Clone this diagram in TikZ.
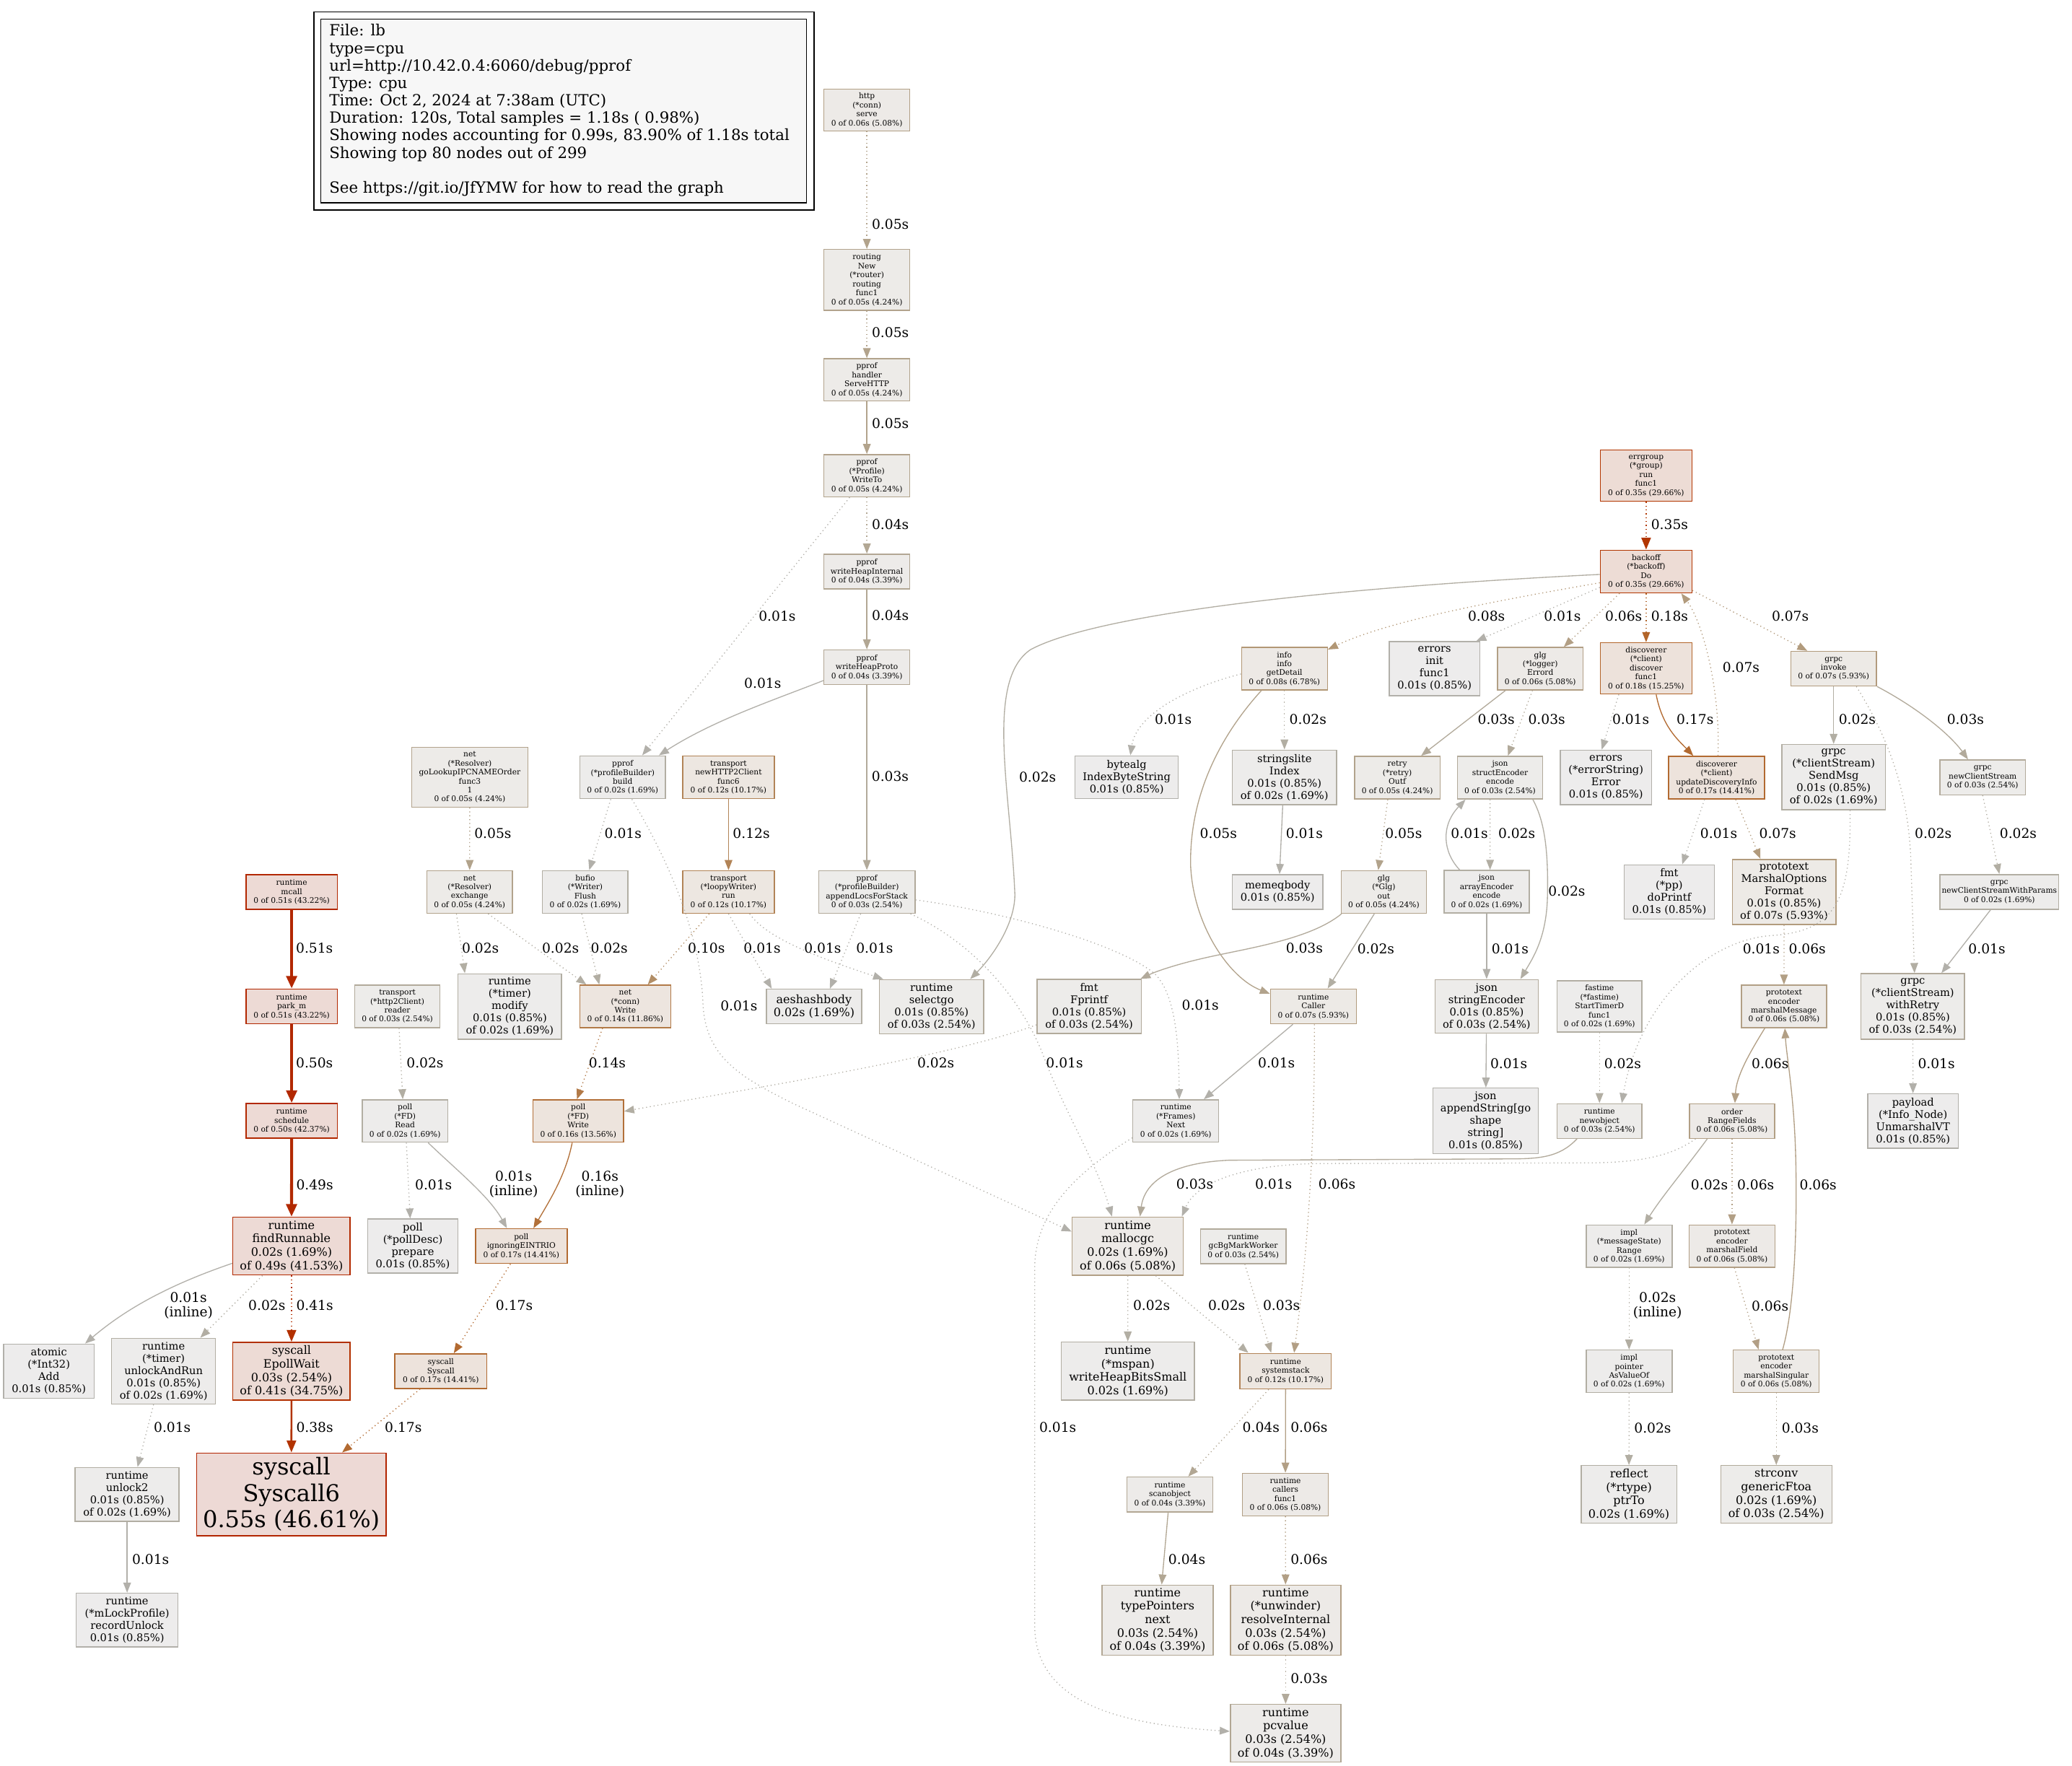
\documentclass[tikz,border=0pt]{standalone}
\usepackage{fontspec}
\setmainfont{DejaVu Serif}
\usetikzlibrary{arrows.meta}
\definecolor{c01}{HTML}{B2B0AA}\definecolor{c02}{HTML}{B2AEA3}\definecolor{c03}{HTML}{B2AA9B}
\definecolor{c04}{HTML}{B2A794}\definecolor{c05}{HTML}{B2A38C}\definecolor{c06}{HTML}{B29F85}
\definecolor{c07}{HTML}{B29B7D}\definecolor{c08}{HTML}{B29775}\definecolor{c10}{HTML}{B28E66}
\definecolor{c12}{HTML}{B28457}\definecolor{c14}{HTML}{B27A48}\definecolor{c16}{HTML}{B27039}
\definecolor{c17}{HTML}{B26A31}\definecolor{c18}{HTML}{B2652A}\definecolor{c35}{HTML}{B23600}
\definecolor{c38}{HTML}{B23300}\definecolor{c41}{HTML}{B23000}\definecolor{c49}{HTML}{B22900}
\definecolor{c50}{HTML}{B22800}\definecolor{c51}{HTML}{B22700}\definecolor{c55}{HTML}{B22400}
\definecolor{f01}{HTML}{EDECEC}\definecolor{f02}{HTML}{EDECEB}\definecolor{f03}{HTML}{EDECEA}
\definecolor{f04}{HTML}{EDEBE9}\definecolor{f05}{HTML}{EDEBE8}\definecolor{f06}{HTML}{EDEAE7}
\definecolor{f07}{HTML}{EDEAE6}\definecolor{f08}{HTML}{EDE9E5}\definecolor{f12}{HTML}{EDE7E1}
\definecolor{f14}{HTML}{EDE5DF}\definecolor{f16}{HTML}{EDE4DD}\definecolor{f17}{HTML}{EDE3DC}
\definecolor{f18}{HTML}{EDE2DB}\definecolor{f35}{HTML}{EDDCD5}\definecolor{f41}{HTML}{EDDBD5}
\definecolor{f51}{HTML}{EDDAD5}\definecolor{f55}{HTML}{EDD9D5}\definecolor{legendfill}{HTML}{F7F7F7}
\tikzset{
 gbox/.style={rectangle, inner sep=0pt, align=center, line width=0.8pt},
 ft/.style={font=\fontsize{5.82}{6.8}\selectfont},
 fa/.style={font=\fontsize{8}{9.3}\selectfont},
 fb/.style={font=\fontsize{8.74}{10.2}\selectfont},
 fc/.style={font=\fontsize{17.5}{20}\selectfont},
 elbl/.style={font=\fontsize{10.2}{11.8}\selectfont, inner sep=0pt, anchor=west},
 elblc/.style={font=\fontsize{10.2}{11}\selectfont, inner sep=0pt, anchor=center, align=center},
 ed/.style={draw=#1, -{Triangle[length=7.6pt,width=5.8pt]}, line width=0.73pt},
 ed2/.style={draw=#1, -{Triangle[length=9pt,width=7pt]}, line width=1.46pt},
 ed3/.style={draw=#1, -{Triangle[length=9.5pt,width=8pt]}, line width=2.2pt},
 dt/.style={dash pattern=on 0.7pt off 2.2pt},
}
\newcommand{\gvnode}[9]{\node[gbox,#6,draw=#7,fill=#8,minimum width=#4pt,minimum height=#5pt] (#1) at (#2,#3) {#9};}
\newcommand{\elab}[4]{\node[elbl] (#1) at (#2,#3) {#4};}
\newcommand{\elabc}[4]{\node[elblc] (#1) at (#2,#3) {#4};}
\begin{document}
\begin{tikzpicture}[x=1pt,y=-1pt]
\useasboundingbox (0,0) rectangle (1568,1336);
% legend
\node[draw=black, line width=0.9pt, anchor=north west, minimum width=378.5pt, minimum height=150pt, inner sep=0pt] (legendframe) at (237,8.5) {};
\node[draw=black, fill=legendfill, line width=0.8pt, anchor=north west, minimum width=367.5pt, minimum height=139pt, inner sep=0pt] (legendbox) at (242.5,14) {};
\node[anchor=north west, align=left, inner sep=0pt, font=\fontsize{11.65}{13.2}\selectfont] (legendtext) at (249,18.2) {File: lb\\type=cpu\\url=http://10.42.0.4:6060/debug/pprof\\Type: cpu\\Time: Oct 2, 2024 at 7:38am (UTC)\\Duration: 120s, Total samples = 1.18s ( 0.98\%)\\Showing nodes accounting for 0.99s, 83.90\% of 1.18s total\\Showing top 80 nodes out of 299\\[13.2pt]See https://git.io/JfYMW for how to read the graph};
% nodes
\gvnode{http}{656}{83.2}{65}{31.6}{ft}{c06}{f06}{http\\(*conn)\\serve\\0 of 0.06s (5.08\%)}
\gvnode{routing}{656}{211.8}{65}{46}{ft}{c05}{f05}{routing\\New\\(*router)\\routing\\func1\\0 of 0.05s (4.24\%)}
\gvnode{servehttp}{656}{287.4}{65}{32}{ft}{c05}{f05}{pprof\\handler\\ServeHTTP\\0 of 0.05s (4.24\%)}
\gvnode{writeto}{656}{360}{65}{32}{ft}{c05}{f05}{pprof\\(*Profile)\\WriteTo\\0 of 0.05s (4.24\%)}
\gvnode{whi}{656}{432.5}{65}{26.3}{ft}{c04}{f04}{pprof\\writeHeapInternal\\0 of 0.04s (3.39\%)}
\gvnode{whp}{656}{505}{65}{26.3}{ft}{c04}{f04}{pprof\\writeHeapProto\\0 of 0.04s (3.39\%)}
\gvnode{build}{471.2}{588.2}{64.8}{32.4}{ft}{c02}{f02}{pprof\\(*profileBuilder)\\build\\0 of 0.02s (1.69\%)}
\gvnode{golookup}{355.5}{588.2}{88}{45.2}{ft}{c05}{f05}{net\\(*Resolver)\\goLookupIPCNAMEOrder\\func3\\1\\0 of 0.05s (4.24\%)}
\gvnode{func6}{551.3}{588.2}{69.3}{32.4}{ft}{c12}{f12}{transport\\newHTTP2Client\\func6\\0 of 0.12s (10.17\%)}
\gvnode{appendlocs}{656}{675}{73}{32.3}{ft}{c03}{f03}{pprof\\(*profileBuilder)\\appendLocsForStack\\0 of 0.03s (2.54\%)}
\gvnode{exchange}{355.4}{675}{64.7}{32.3}{ft}{c05}{f05}{net\\(*Resolver)\\exchange\\0 of 0.05s (4.24\%)}
\gvnode{bufio}{442.9}{675}{64.7}{32.3}{ft}{c02}{f02}{bufio\\(*Writer)\\Flush\\0 of 0.02s (1.69\%)}
\gvnode{loopy}{551.3}{675}{69.3}{32.3}{ft}{c12}{f12}{transport\\(*loopyWriter)\\run\\0 of 0.12s (10.17\%)}
\gvnode{mcall}{220.7}{675}{69}{26.3}{ft}{c51}{f51}{runtime\\mcall\\0 of 0.51s (43.22\%)}
\gvnode{parkm}{220.7}{761.6}{69}{26.3}{ft}{c51}{f51}{runtime\\park\_m\\0 of 0.51s (43.22\%)}
\gvnode{schedule}{220.7}{848.2}{69}{26.3}{ft}{c50}{f51}{runtime\\schedule\\0 of 0.50s (42.37\%)}
\gvnode{findrunnable}{220.6}{943}{88.8}{43.8}{fb}{c49}{f51}{runtime\\findRunnable\\0.02s (1.69\%)\\of 0.49s (41.53\%)}
\gvnode{reader}{300.7}{761.6}{64.4}{32.2}{ft}{c03}{f03}{transport\\(*http2Client)\\reader\\0 of 0.03s (2.54\%)}
\gvnode{timermodify}{385.8}{761.7}{78.4}{49.6}{fa}{c02}{f02}{runtime\\(*timer)\\modify\\0.01s (0.85\%)\\of 0.02s (1.69\%)}
\gvnode{netwrite}{473.2}{761.6}{69}{32.2}{ft}{c14}{f14}{net\\(*conn)\\Write\\0 of 0.14s (11.86\%)}
\gvnode{aeshash}{616}{761.6}{72}{26}{fb}{c02}{f02}{aeshashbody\\0.02s (1.69\%)}
\gvnode{selectgo}{704.9}{761.8}{79}{41}{fa}{c03}{f03}{runtime\\selectgo\\0.01s (0.85\%)\\of 0.03s (2.54\%)}
\gvnode{pollread}{306.5}{848.3}{64.7}{32.1}{ft}{c02}{f02}{poll\\(*FD)\\Read\\0 of 0.02s (1.69\%)}
\gvnode{pollwrite}{437.6}{848.3}{68.6}{32.1}{ft}{c16}{f16}{poll\\(*FD)\\Write\\0 of 0.16s (13.56\%)}
\gvnode{polldesc}{312.4}{943}{68.4}{41}{fa}{c01}{f01}{poll\\(*pollDesc)\\prepare\\0.01s (0.85\%)}
\gvnode{ignoring}{394.5}{943}{69.4}{26.3}{ft}{c17}{f17}{poll\\ignoringEINTRIO\\0 of 0.17s (14.41\%)}
\gvnode{atomicadd}{37}{1037.6}{68.6}{41}{fa}{c01}{f01}{atomic\\(*Int32)\\Add\\0.01s (0.85\%)}
\gvnode{unlockandrun}{123.8}{1037.6}{78.6}{49.8}{fa}{c02}{f02}{runtime\\(*timer)\\unlockAndRun\\0.01s (0.85\%)\\of 0.02s (1.69\%)}
\gvnode{epollwait}{220.6}{1037.7}{88.8}{43.7}{fb}{c41}{f41}{syscall\\EpollWait\\0.03s (2.54\%)\\of 0.41s (34.75\%)}
\gvnode{syscall}{333.6}{1037.6}{69.5}{26.3}{ft}{c17}{f17}{syscall\\Syscall\\0 of 0.17s (14.41\%)}
\gvnode{unlocktwo}{96.2}{1130.9}{78.6}{40.7}{fa}{c02}{f02}{runtime\\unlock2\\0.01s (0.85\%)\\of 0.02s (1.69\%)}
\gvnode{syscallsix}{220.5}{1130.9}{143.2}{62.7}{fc}{c55}{f55}{syscall\\Syscall6\\0.55s (46.61\%)}
\gvnode{recordunlock}{96.2}{1226}{77}{40.7}{fa}{c01}{f01}{runtime\\(*mLockProfile)\\recordUnlock\\0.01s (0.85\%)}
\gvnode{fprintf}{824.2}{761.6}{78.8}{40.8}{fa}{c03}{f03}{fmt\\Fprintf\\0.01s (0.85\%)\\of 0.03s (2.54\%)}
\gvnode{caller}{993.9}{761.6}{65}{26.3}{ft}{c07}{f07}{runtime\\Caller\\0 of 0.07s (5.93\%)}
\gvnode{frames}{889.8}{848.3}{65}{32.1}{ft}{c02}{f02}{runtime\\(*Frames)\\Next\\0 of 0.02s (1.69\%)}
\gvnode{mallocgc}{853.4}{943}{84}{44}{fb}{c06}{f06}{runtime\\mallocgc\\0.02s (1.69\%)\\of 0.06s (5.08\%)}
\gvnode{gcbg}{940.8}{943.1}{64.8}{26.2}{ft}{c03}{f03}{runtime\\gcBgMarkWorker\\0 of 0.03s (2.54\%)}
\gvnode{whbs}{853.5}{1037.6}{100.5}{44}{fb}{c02}{f02}{runtime\\(*mspan)\\writeHeapBitsSmall\\0.02s (1.69\%)}
\gvnode{systemstack}{972.9}{1037.6}{69.2}{26.9}{ft}{c12}{f12}{runtime\\systemstack\\0 of 0.12s (10.17\%)}
\gvnode{scanobject}{885.3}{1130.9}{65.2}{26.3}{ft}{c04}{f04}{runtime\\scanobject\\0 of 0.04s (3.39\%)}
\gvnode{callers}{972.7}{1131}{65.2}{32.3}{ft}{c06}{f06}{runtime\\callers\\func1\\0 of 0.06s (5.08\%)}
\gvnode{typepointers}{876}{1226}{84}{53}{fb}{c04}{f04}{runtime\\typePointers\\next\\0.03s (2.54\%)\\of 0.04s (3.39\%)}
\gvnode{resolve}{972.9}{1226}{83.7}{53}{fb}{c06}{f06}{runtime\\(*unwinder)\\resolveInternal\\0.03s (2.54\%)\\of 0.06s (5.08\%)}
\gvnode{pcvalue}{972.9}{1311.6}{83.7}{43.6}{fb}{c04}{f04}{runtime\\pcvalue\\0.03s (2.54\%)\\of 0.04s (3.39\%)}
\gvnode{getdetail}{972}{506}{65}{32}{ft}{c08}{f08}{info\\info\\getDetail\\0 of 0.08s (6.78\%)}
\gvnode{errinit}{1085.6}{506}{68.3}{41}{fa}{c01}{f01}{errors\\init\\func1\\0.01s (0.85\%)}
\gvnode{errord}{1165.6}{506}{64.6}{32}{ft}{c06}{f06}{glg\\(*logger)\\Errord\\0 of 0.06s (5.08\%)}
\gvnode{errgroup}{1245.7}{360}{69.3}{38.8}{ft}{c35}{f35}{errgroup\\(*group)\\run\\func1\\0 of 0.35s (29.66\%)}
\gvnode{backoff}{1245.7}{432.5}{69.3}{32.3}{ft}{c35}{f35}{backoff\\(*backoff)\\Do\\0 of 0.35s (29.66\%)}
\gvnode{discover}{1245.7}{505.8}{69.3}{38.8}{ft}{c18}{f18}{discoverer\\(*client)\\discover\\func1\\0 of 0.18s (15.25\%)}
\gvnode{invoke}{1387.6}{506}{64.9}{26.2}{ft}{c07}{f07}{grpc\\invoke\\0 of 0.07s (5.93\%)}
\gvnode{bytealg}{852.6}{588.2}{78}{32.4}{fa}{c01}{f01}{bytealg\\IndexByteString\\0.01s (0.85\%)}
\gvnode{stringslite}{972}{588.3}{79}{41.4}{fa}{c02}{f02}{stringslite\\Index\\0.01s (0.85\%)\\of 0.02s (1.69\%)}
\gvnode{retry}{1057.4}{588.5}{64.6}{32.3}{ft}{c05}{f05}{retry\\(*retry)\\Outf\\0 of 0.05s (4.24\%)}
\gvnode{structenc}{1135.2}{588.5}{64.5}{32.3}{ft}{c03}{f03}{json\\structEncoder\\encode\\0 of 0.03s (2.54\%)}
\gvnode{errstring}{1215.3}{588.3}{69.3}{41.2}{fa}{c01}{f01}{errors\\(*errorString)\\Error\\0.01s (0.85\%)}
\gvnode{update}{1299}{588.5}{72.4}{32.3}{ft}{c17}{f17}{discoverer\\(*client)\\updateDiscoveryInfo\\0 of 0.17s (14.41\%)}
\gvnode{sendmsg}{1387.6}{588.1}{78.5}{49.5}{fa}{c02}{f02}{grpc\\(*clientStream)\\SendMsg\\0.01s (0.85\%)\\of 0.02s (1.69\%)}
\gvnode{newcs}{1500.4}{588.3}{64.6}{26.4}{ft}{c03}{f03}{grpc\\newClientStream\\0 of 0.03s (2.54\%)}
\gvnode{memeqbody}{966.8}{675}{68.8}{26.4}{fa}{c01}{f01}{memeqbody\\0.01s (0.85\%)}
\gvnode{glgout}{1047.2}{675}{64.6}{32.3}{ft}{c05}{f05}{glg\\(*Glg)\\out\\0 of 0.05s (4.24\%)}
\gvnode{arrayenc}{1125}{674.8}{64.5}{32.3}{ft}{c02}{f02}{json\\arrayEncoder\\encode\\0 of 0.02s (1.69\%)}
\gvnode{doprintf}{1263.2}{675}{68.3}{41}{fa}{c01}{f01}{fmt\\(*pp)\\doPrintf\\0.01s (0.85\%)}
\gvnode{format}{1350.1}{675}{78.4}{49.3}{fa}{c07}{f07}{prototext\\MarshalOptions\\Format\\0.01s (0.85\%)\\of 0.07s (5.93\%)}
\gvnode{withparams}{1513}{675}{90}{26.4}{ft}{c02}{f02}{grpc\\newClientStreamWithParams\\0 of 0.02s (1.69\%)}
\gvnode{stringenc}{1125}{761.6}{78}{40.6}{fa}{c03}{f03}{json\\stringEncoder\\0.01s (0.85\%)\\of 0.03s (2.54\%)}
\gvnode{fastime}{1210.4}{761.6}{64.2}{38.8}{ft}{c02}{f02}{fastime\\(*fastime)\\StartTimerD\\func1\\0 of 0.02s (1.69\%)}
\gvnode{marshalmsg}{1350}{761.6}{64.5}{32.2}{ft}{c06}{f06}{prototext\\encoder\\marshalMessage\\0 of 0.06s (5.08\%)}
\gvnode{withretry}{1447.5}{761.6}{78.4}{49.7}{fa}{c03}{f03}{grpc\\(*clientStream)\\withRetry\\0.01s (0.85\%)\\of 0.03s (2.54\%)}
\gvnode{appendstr}{1124.2}{848.2}{79.8}{49.5}{fa}{c01}{f01}{json\\appendString[go\\shape\\string]\\0.01s (0.85\%)}
\gvnode{newobject}{1210.4}{848.3}{64.2}{26.2}{ft}{c03}{f03}{runtime\\newobject\\0 of 0.03s (2.54\%)}
\gvnode{rangefields}{1310.7}{848.3}{64.6}{26.2}{ft}{c06}{f06}{order\\RangeFields\\0 of 0.06s (5.08\%)}
\gvnode{payload}{1447.7}{848.3}{68.7}{41}{fa}{c01}{f01}{payload\\(*Info\_Node)\\UnmarshalVT\\0.01s (0.85\%)}
\gvnode{implrange}{1232.8}{943}{65}{32}{ft}{c02}{f02}{impl\\(*messageState)\\Range\\0 of 0.02s (1.69\%)}
\gvnode{marshalfield}{1310.7}{943}{65}{32}{ft}{c06}{f06}{prototext\\encoder\\marshalField\\0 of 0.06s (5.08\%)}
\gvnode{asvalueof}{1232.8}{1037.7}{65}{32}{ft}{c02}{f02}{impl\\pointer\\AsValueOf\\0 of 0.02s (1.69\%)}
\gvnode{marshalsing}{1344.2}{1037.7}{65}{32}{ft}{c06}{f06}{prototext\\encoder\\marshalSingular\\0 of 0.06s (5.08\%)}
\gvnode{ptrto}{1232.7}{1130.9}{72.4}{43.7}{fb}{c02}{f02}{reflect\\(*rtype)\\ptrTo\\0.02s (1.69\%)}
\gvnode{genericftoa}{1344.2}{1130.9}{84.1}{43.7}{fb}{c03}{f03}{strconv\\genericFtoa\\0.02s (1.69\%)\\of 0.03s (2.54\%)}
% edges
\draw[ed=c05,dt] (http) -- (routing);
\draw[ed=c05,dt] (routing) -- (servehttp);
\draw[ed=c05] (servehttp) -- (writeto);
\draw[ed=c04,dt] (writeto) -- (whi);
\draw[ed=c04] (whi) -- (whp);
\draw[ed=c01,dt] ([xshift=-13pt]writeto.south) -- ([xshift=14.8pt]build.north);
\draw[ed=c01] ([yshift=-10pt]whp.west) .. controls (585,530) and (540,545) .. ([xshift=27.4pt]build.north);
\draw[ed=c03] (whp) -- (appendlocs);
\draw[ed=c05,dt] (golookup) -- (exchange);
\draw[ed=c01,dt] ([xshift=-9pt]build.south) -- ([xshift=3pt]bufio.north);
\draw[ed=c01,dt] ([xshift=7pt]build.south) .. controls (505,650) and (530,705) .. (532,760) .. controls (534,800) and (560,815) .. (600,835) -- ([yshift=11pt]mallocgc.west);
\draw[ed=c12] (func6) -- (loopy);
\draw[ed=c02,dt] ([xshift=-10pt]exchange.south) -- ([xshift=-34pt]timermodify.north);
\draw[ed=c02,dt] ([xshift=14pt]exchange.south) -- ([xshift=-29.5pt]netwrite.north);
\draw[ed=c02,dt] ([xshift=-2.7pt]bufio.south) -- ([xshift=-19.7pt]netwrite.north);
\draw[ed=c10,dt] ([xshift=-14.6pt]loopy.south) -- ([xshift=17pt]netwrite.north);
\draw[ed=c01,dt] (loopy.south) -- ([xshift=-32pt]aeshash.north);
\draw[ed=c01,dt] ([xshift=16pt]loopy.south) .. controls (580,710) and (620,725) .. ([xshift=-36.5pt]selectgo.north);
\draw[ed=c01,dt] ([xshift=-4.7pt]appendlocs.south) -- ([xshift=12pt]aeshash.north);
\draw[ed=c01,dt] ([xshift=33pt]appendlocs.south) .. controls (740,715) and (775,760) .. (790,800) .. controls (805,840) and (830,880) .. ([xshift=-11.9pt]mallocgc.north);
\draw[ed=c01,dt] ([yshift=-6pt]appendlocs.east) .. controls (760,690) and (850,715) .. (875,738) .. controls (890,755) and (892,790) .. ([xshift=2.6pt]frames.north);
\draw[ed=c02,dt] ([yshift=-13.9pt]fprintf.west) .. controls (720,800) and (560,825) .. ([yshift=7.3pt]pollwrite.east);
\draw[ed=c02] ([yshift=-2.2pt]backoff.west) .. controls (1000,445) and (830,465) .. (780,491.5) .. controls (745,515) and (765,600) .. (768,677) .. controls (768,700) and (750,725) .. ([xshift=29.3pt]selectgo.north);
\draw[ed3=c51] (mcall) -- (parkm);
\draw[ed3=c50] (parkm) -- (schedule);
\draw[ed3=c49] (schedule) -- (findrunnable);
\draw[ed=c01] ([yshift=-13pt]findrunnable.west) .. controls (120,975) and (90,995) .. ([xshift=27.4pt]atomicadd.north);
\draw[ed=c02,dt] ([xshift=-22pt]findrunnable.south) -- ([xshift=27.8pt]unlockandrun.north);
\draw[ed2=c41,dt] (findrunnable) -- (epollwait);
\draw[ed2=c38] (epollwait) -- (syscallsix);
\draw[ed=c17,dt] ([xshift=-15.7pt]syscall.south) -- ([xshift=38.4pt]syscallsix.north);
\draw[ed=c17,dt] ([xshift=-8.2pt]ignoring.south) -- ([xshift=9.8pt]syscall.north);
\draw[ed=c01,dt] ([xshift=-7.6pt]unlockandrun.south) -- ([xshift=7.9pt]unlocktwo.north);
\draw[ed=c01] (unlocktwo) -- (recordunlock);
\draw[ed=c02,dt] ([xshift=1.3pt]reader.south) -- ([xshift=-1.7pt]pollread.north);
\draw[ed=c01,dt] ([xshift=1pt]pollread.south) -- ([xshift=-2pt]polldesc.north);
\draw[ed=c01] ([xshift=17.5pt]pollread.south) .. controls (345,885) and (370,905) .. ([xshift=-10.9pt]ignoring.north);
\draw[ed=c14,dt] ([xshift=-17.2pt]netwrite.south) -- ([xshift=-1pt]pollwrite.north);
\draw[ed=c16] ([xshift=-4.6pt]pollwrite.south) .. controls (428,890) and (415,910) .. ([xshift=9.2pt]ignoring.north);
\draw[ed=c05] ([xshift=-17.3pt]getdetail.south) .. controls (925,555) and (900,600) .. (901,655) .. controls (903,700) and (930,740) .. ([yshift=9.6pt]caller.west);
\draw[ed=c02] ([xshift=-7.2pt]glgout.south) -- ([xshift=10.8pt]caller.north);
\draw[ed=c03] ([xshift=-32pt]glgout.south) .. controls (990,712) and (940,718) .. (907,726) .. controls (890,730) and (875,735) .. ([xshift=-1pt]fprintf.north east);
\draw[ed=c01] ([xshift=-15.5pt]caller.south) -- ([xshift=21.2pt]frames.north);
\draw[ed=c06,dt] ([xshift=0.8pt]caller.south) .. controls (995,900) and (985,980) .. ([xshift=6.4pt]systemstack.north);
\draw[ed=c01,dt] ([yshift=-12.7pt]frames.west) .. controls (810,890) and (783,920) .. (783,960) -- (783,1230) .. controls (783,1290) and (850,1305) .. ([yshift=1.4pt]pcvalue.west);
\draw[ed=c02,dt] (mallocgc) -- (whbs);
\draw[ed=c02,dt] ([xshift=21.2pt]mallocgc.south) -- ([xshift=-28.2pt]systemstack.north);
\draw[ed=c03,dt] ([xshift=1.2pt]gcbg.south) -- ([xshift=-10.9pt]systemstack.north);
\draw[ed=c03] ([xshift=-17pt]newobject.south) .. controls (1180,876) and (1165,877) .. (1140,877) -- (930,878) .. controls (885,880) and (866,895) .. ([xshift=9.3pt]mallocgc.north);
\draw[ed=c01,dt] ([xshift=-27.6pt]rangefields.south) .. controls (1265,875) and (1240,880) .. (1200,880) -- (1000,880.5) .. controls (940,881) and (905,895) .. ([xshift=41pt]mallocgc.north);
\draw[ed=c04,dt] ([xshift=-12.8pt]systemstack.south) -- ([xshift=13.9pt]scanobject.north);
\draw[ed=c06] (systemstack) -- (callers);
\draw[ed=c04] ([xshift=-1.3pt]scanobject.south) -- ([xshift=3.1pt]typepointers.north);
\draw[ed=c06,dt] (callers) -- (resolve);
\draw[ed=c03,dt] (resolve) -- (pcvalue);
\draw[ed2=c35,dt] (errgroup) -- (backoff);
\draw[ed=c08,dt] ([yshift=-8.5pt]backoff.west) .. controls (1130,455) and (1050,470) .. ([yshift=14.5pt]getdetail.east);
\draw[ed=c01,dt] ([yshift=-12pt]backoff.west) -- ([xshift=-3pt]errinit.north east);
\draw[ed=c06,dt] ([xshift=-20.1pt]backoff.south) -- ([xshift=17.8pt]errord.north);
\draw[ed=c18,dt] (backoff) -- (discover);
\draw[ed=c07,dt] ([yshift=-14.3pt]backoff.east) -- ([xshift=-19.9pt]invoke.north);
\draw[ed=c07,dt] ([xshift=1.1pt]update.north) .. controls (1302,520) and (1288,470) .. ([xshift=26.6pt]backoff.south);
\draw[ed=c01,dt] ([xshift=-20.7pt]discover.south) -- ([xshift=-3.2pt]errstring.north);
\draw[ed=c17] ([xshift=7.6pt]discover.south) .. controls (1258,550) and (1270,560) .. ([xshift=-17.6pt]update.north);
\draw[ed=c02] (invoke) -- (sendmsg);
\draw[ed=c03] (invoke.south east) .. controls (1450,535) and (1475,555) .. ([xshift=-11.1pt]newcs.north);
\draw[ed=c02,dt] ([xshift=17.2pt]invoke.south) .. controls (1430,560) and (1444,600) .. (1446,650) -- ([xshift=1.3pt]withretry.north);
\draw[ed=c03] ([xshift=-26.2pt]errord.south) -- ([xshift=18pt]retry.north);
\draw[ed=c03,dt] ([xshift=-5.9pt]errord.south) -- ([xshift=5.9pt]structenc.north);
\draw[ed=c05,dt] ([xshift=-7.2pt]retry.south) -- ([xshift=-4.2pt]glgout.north);
\draw[ed=c02,dt] ([xshift=-7.6pt]structenc.south) -- ([xshift=2.6pt]arrayenc.north);
\draw[ed=c01] ([xshift=-20.4pt]arrayenc.north) .. controls (1092,645) and (1090,625) .. ([xshift=-26.2pt]structenc.south);
\draw[ed=c02] ([xshift=24.8pt]structenc.south) .. controls (1168,620) and (1172,640) .. (1171,680) .. controls (1170,710) and (1160,725) .. ([xshift=25.6pt]stringenc.north);
\draw[ed=c01] (arrayenc) -- (stringenc);
\draw[ed=c01] (stringenc) -- (appendstr);
\draw[ed=c01,dt] ([xshift=-9.1pt]update.south) -- ([xshift=9.8pt]doprintf.north);
\draw[ed=c07,dt] ([xshift=14.5pt]update.south) -- ([xshift=-17.9pt]format.north);
\draw[ed=c02,dt] (newcs.south) -- (withparams.north);
\draw[ed=c01] ([xshift=-6.7pt]withparams.south) -- ([xshift=21.7pt]withretry.north);
\draw[ed=c01,dt] ([xshift=12.4pt]sendmsg.south) .. controls (1401,680) and (1390,705) .. (1340,708) .. controls (1290,712) and (1240,760) .. ([xshift=16.9pt]newobject.north);
\draw[ed=c02,dt] (fastime) -- (newobject);
\draw[ed=c06,dt] (format) -- (marshalmsg);
\draw[ed=c06] ([xshift=-14.5pt]marshalmsg.south) .. controls (1322,800) and (1314,815) .. ([xshift=2.2pt]rangefields.north);
\draw[ed=c06] ([xshift=4.8pt]marshalsing.north) .. controls (1358,990) and (1360,930) .. (1359,880) .. controls (1358,830) and (1352,800) .. ([xshift=0.7pt]marshalmsg.south);
\draw[ed=c01,dt] (withretry) -- (payload);
\draw[ed=c02] ([xshift=-18.7pt]rangefields.south) .. controls (1275,885) and (1258,905) .. ([xshift=11.5pt]implrange.north);
\draw[ed=c06,dt] (rangefields) -- (marshalfield);
\draw[ed=c02,dt] (implrange) -- (asvalueof);
\draw[ed=c06,dt] ([xshift=1.8pt]marshalfield.south) -- ([xshift=-13.4pt]marshalsing.north);
\draw[ed=c02,dt] (asvalueof) -- (ptrto);
\draw[ed=c03,dt] (marshalsing) -- (genericftoa);
\draw[ed=c01,dt] ([yshift=-4pt]getdetail.west) .. controls (900,520) and (860,540) .. ([xshift=2.8pt]bytealg.north);
\draw[ed=c02,dt] (getdetail) -- (stringslite);
\draw[ed=c01] ([xshift=-1.3pt]stringslite.south) -- ([xshift=1.5pt]memeqbody.north);
% edge labels
\elab{la}{659.6}{169.8}{0.05s}
\elab{lb}{659.6}{251.7}{0.05s}
\elab{lc}{659.6}{320.4}{0.05s}
\elab{ld}{659.6}{397}{0.04s}
\elab{le}{659.6}{465.8}{0.04s}
\elab{lf}{574}{466}{0.01s}
\elab{lg}{563}{517}{0.01s}
\elab{lh}{659.5}{587.5}{0.03s}
\elab{li}{358.8}{630.8}{0.05s}
\elab{lj}{457.3}{630.8}{0.01s}
\elab{lk}{554.4}{630.8}{0.12s}
\elab{ll}{223.8}{717.3}{0.51s}
\elab{lm}{349.4}{717.3}{0.02s}
\elab{ln}{410}{717.3}{0.02s}
\elab{lo}{446.9}{717.3}{0.02s}
\elab{lp}{520.4}{717.3}{0.10s}
\elab{lq}{562.6}{717.3}{0.01s}
\elab{lr}{608.4}{717.3}{0.01s}
\elab{ls}{647.7}{717.3}{0.01s}
\elab{lt}{545}{761}{0.01s}
\elab{lu}{223.8}{804.3}{0.50s}
\elab{lv}{307.5}{804.3}{0.02s}
\elab{lw}{445.4}{804.3}{0.14s}
\elab{lx}{694}{804.5}{0.02s}
\elab{ly}{791.4}{804.3}{0.01s}
\elab{lz}{894.2}{760.8}{0.01s}
\elab{maa}{951.8}{804.1}{0.01s}
\elab{mab}{972.9}{717.6}{0.03s}
\elab{mac}{1027}{718.2}{0.02s}
\elab{mad}{907.9}{630.8}{0.05s}
\elab{mae}{972.9}{630.8}{0.01s}
\elab{maf}{873.7}{544.3}{0.01s}
\elab{mag}{975.6}{544.3}{0.02s}
\elab{mah}{771}{588}{0.02s}
\elab{mai}{224}{896.4}{0.49s}
\elab{maj}{313.9}{896.4}{0.01s}
\elabc{mak}{388.7}{896.2}{0.01s\\(inline)}
\elabc{mal}{454}{896}{0.16s\\(inline)}
\elabc{mam}{142.6}{988}{0.01s\\(inline)}
\elab{man}{187.8}{987.9}{0.02s}
\elab{mao}{224}{987.9}{0.41s}
\elab{map}{375}{987.9}{0.17s}
\elab{maq}{116.2}{1080}{0.01s}
\elab{mar}{224}{1080}{0.38s}
\elab{mas}{291}{1080}{0.17s}
\elab{mat}{99.8}{1180}{0.01s}
\elab{mau}{890}{896}{0.03s}
\elab{mav}{949.6}{896}{0.01s}
\elab{maw}{997.6}{896}{0.06s}
\elab{max}{857.3}{987.9}{0.02s}
\elab{may}{914.1}{987.9}{0.02s}
\elab{maz}{955.6}{987.9}{0.03s}
\elab{mba}{786.3}{1080.1}{0.01s}
\elab{mbb}{940.1}{1080.1}{0.04s}
\elab{mbc}{976.5}{1080.1}{0.06s}
\elab{mbd}{884}{1180.1}{0.04s}
\elab{mbe}{976.5}{1180.1}{0.06s}
\elab{mbf}{976.5}{1270.4}{0.03s}
\elab{mbg}{1249.3}{396.9}{0.35s}
\elab{mbh}{1110.7}{466.1}{0.08s}
\elab{mbi}{1168.2}{466.1}{0.01s}
\elab{mbj}{1214.5}{466.1}{0.06s}
\elab{mbk}{1249.3}{466.1}{0.18s}
\elab{mbl}{1340.6}{466.1}{0.07s}
\elab{mbm}{1303.4}{504.9}{0.07s}
\elab{mbn}{1118.1}{544.6}{0.03s}
\elab{mbo}{1156.3}{544.6}{0.03s}
\elab{mbp}{1219.9}{544.6}{0.01s}
\elab{mbq}{1268.6}{544.6}{0.17s}
\elab{mbr}{1391.3}{544.6}{0.02s}
\elab{mbs}{1473.2}{544.6}{0.03s}
\elab{mbt}{1048}{630.8}{0.05s}
\elab{mbu}{1097.8}{630.8}{0.01s}
\elab{mbv}{1133.6}{630.8}{0.02s}
\elab{mbw}{1286.5}{630.8}{0.01s}
\elab{mbx}{1331.1}{630.8}{0.07s}
\elab{mby}{1448.8}{630.8}{0.02s}
\elab{mbz}{1513.1}{630.8}{0.02s}
\elab{mca}{1171.5}{674.5}{0.02s}
\elab{mcb}{1128.6}{718.2}{0.01s}
\elab{mcc}{1318.6}{718.2}{0.01s}
\elab{mcd}{1353.5}{718.2}{0.06s}
\elab{mce}{1489.4}{718.2}{0.01s}
\elab{mcf}{1127.6}{804.7}{0.01s}
\elab{mcg}{1213.8}{804.7}{0.02s}
\elab{mch}{1325.4}{804.7}{0.06s}
\elab{mci}{1451.2}{804.7}{0.01s}
\elab{mcj}{1279.4}{896.6}{0.02s}
\elab{mck}{1314.4}{896.6}{0.06s}
\elab{mcl}{1361.7}{896.6}{0.06s}
\elabc{mcm}{1254.3}{988}{0.02s\\(inline)}
\elab{mcn}{1325.3}{988.2}{0.06s}
\elab{mco}{1236.5}{1080.4}{0.02s}
\elab{mcp}{1348.1}{1080.4}{0.03s}
\end{tikzpicture}
\end{document}
